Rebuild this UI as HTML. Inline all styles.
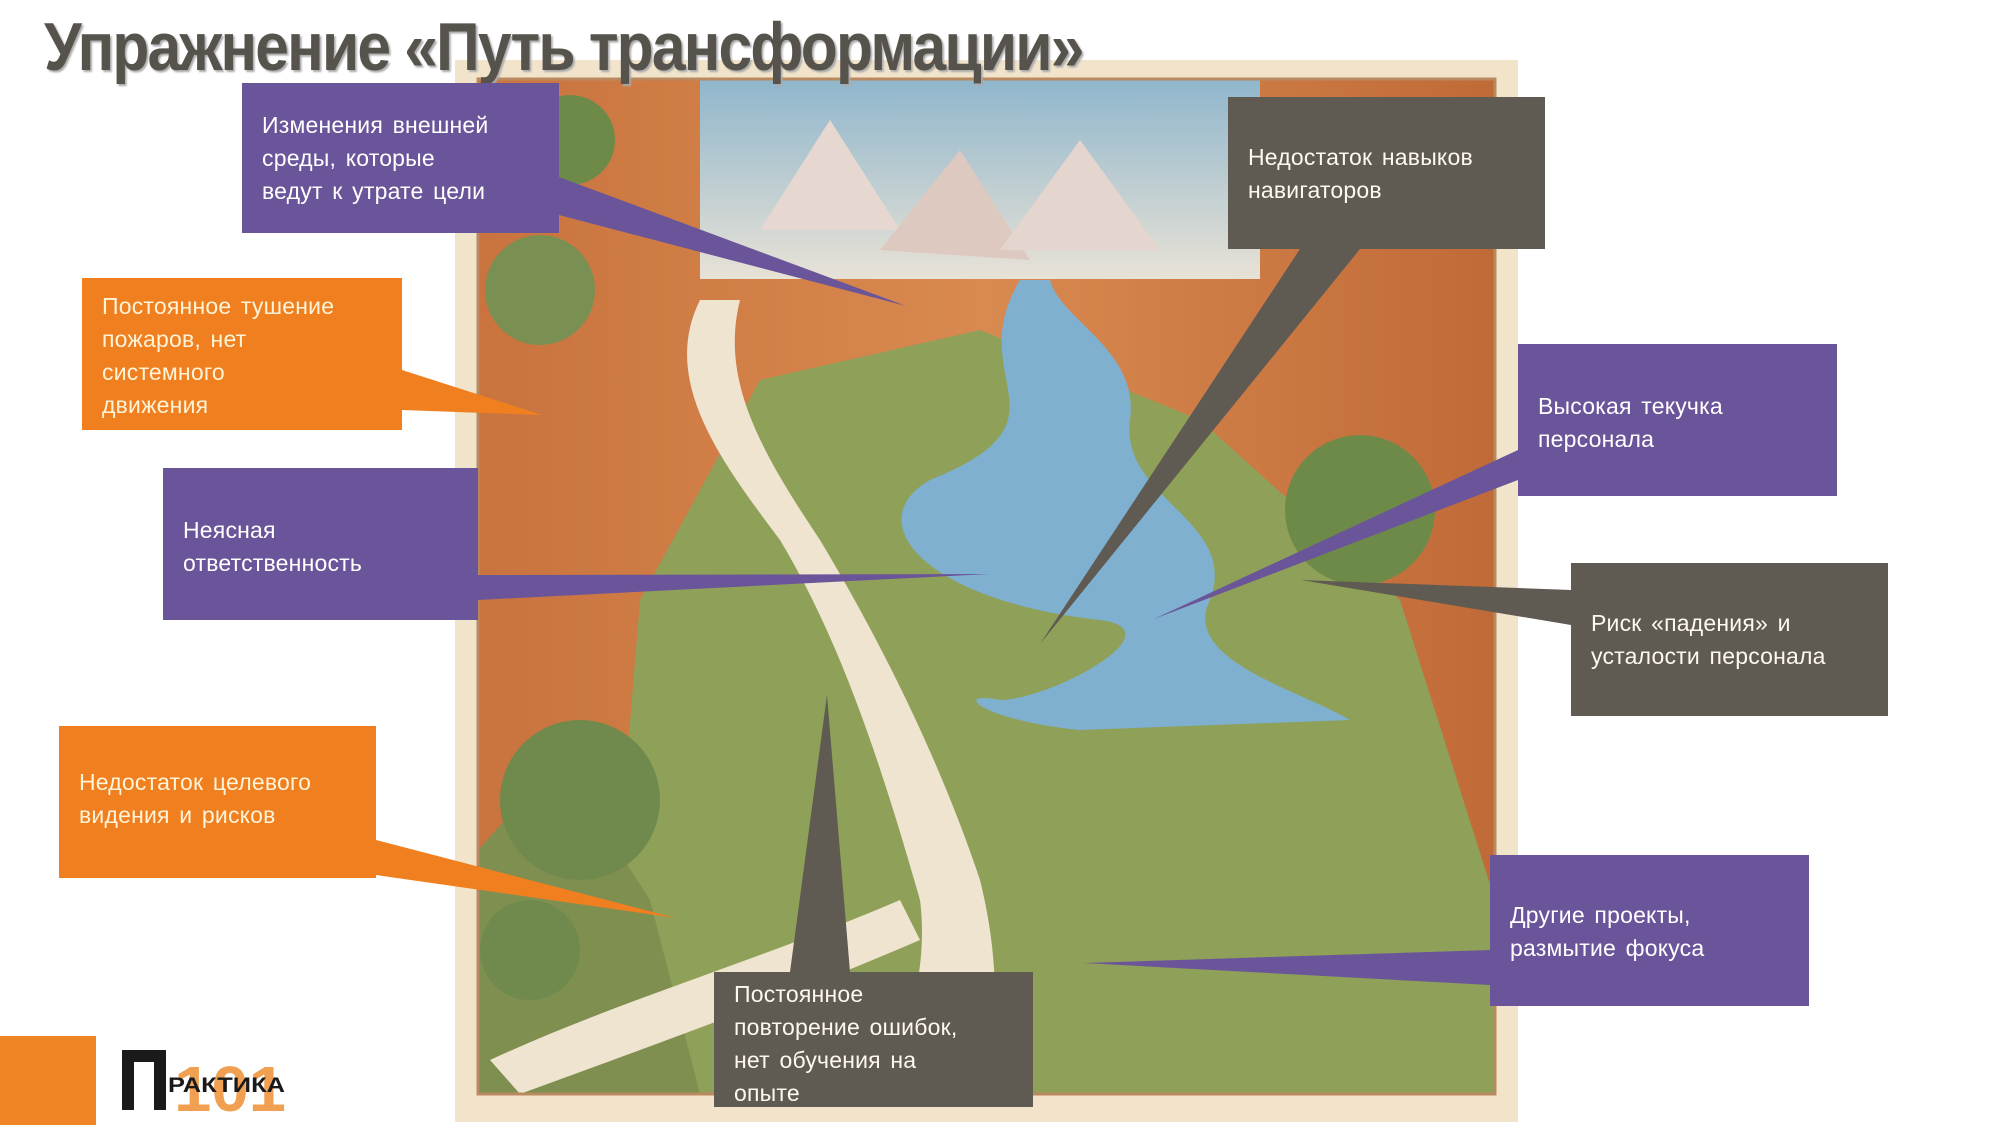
<!DOCTYPE html>
<html><head><meta charset="utf-8"><style>
body{margin:0;width:2000px;height:1125px;overflow:hidden;background:#fff;position:relative;font-family:"Liberation Sans",sans-serif}
.t{position:absolute;left:44px;top:8px;font-family:"Liberation Sans",sans-serif;font-weight:bold;font-size:68px;color:#56534c;letter-spacing:-2px;text-shadow:2px 2px 2px #aaa;white-space:nowrap;transform:scaleX(0.89);transform-origin:0 0;z-index:2}
.b{position:absolute;box-sizing:border-box;padding:26px 20px;font-size:23px;line-height:33px;color:#fff;letter-spacing:0.2px;word-spacing:3px;white-space:nowrap;z-index:3}
.p{background:#6b559a}.o{background:#ef7f1f;color:#fff3d8}.g{background:#5f5b53}
</style></head><body>
<div class="t">Упражнение «Путь трансформации»</div>
<svg width="2000" height="1125" style="position:absolute;left:0;top:0;z-index:1">
<defs>
<linearGradient id="sky" x1="0" y1="0" x2="0" y2="1"><stop offset="0" stop-color="#8fb6cc"/><stop offset="1" stop-color="#e8e2d6"/></linearGradient>
<linearGradient id="rock" x1="0" y1="0" x2="1" y2="0"><stop offset="0" stop-color="#c9733e"/><stop offset="0.5" stop-color="#d98a50"/><stop offset="1" stop-color="#c06a38"/></linearGradient>
</defs>
<rect x="455" y="60" width="1063" height="1062" fill="#f2e4cb"/>
<rect x="478" y="79" width="1017" height="1015" fill="url(#rock)"/>
<rect x="700" y="79" width="560" height="200" fill="url(#sky)"/>
<polygon points="760,230 830,120 900,230" fill="#e6d8d0"/>
<polygon points="880,250 960,150 1030,260" fill="#ddc9c0"/>
<polygon points="1000,250 1080,140 1160,250" fill="#e4d6ce"/>
<polygon points="600,1094 640,600 760,380 980,330 1200,420 1400,600 1495,900 1495,1094" fill="#8fa058"/>
<polygon points="478,1094 478,850 560,760 650,900 700,1094" fill="#7f8f50"/>
<path d="M1020,280 C960,380 1080,420 930,480 C860,520 920,600 1100,620 C1180,630 1050,700 1000,700 C950,690 980,720 1080,730 L1350,720 C1300,690 1180,660 1210,600 C1240,520 1120,500 1130,420 C1140,350 1060,320 1050,280Z" fill="#7fb0d0"/>
<path d="M700,300 C660,380 720,460 780,540 C840,640 880,760 920,900 C930,980 900,1050 880,1094 L980,1094 C1000,1040 1000,960 980,880 C940,760 880,640 820,540 C760,450 720,380 740,300Z" fill="#efe4d0"/>
<path d="M490,1060 C620,1000 760,960 900,900 L920,940 C780,1000 640,1050 520,1094Z" fill="#efe4d0"/>
<circle cx="570" cy="140" r="45" fill="#6e8a48"/><circle cx="540" cy="290" r="55" fill="#7a8f52"/>
<circle cx="580" cy="800" r="80" fill="#6f8a4c"/><circle cx="1360" cy="510" r="75" fill="#6d8a48"/>
<circle cx="530" cy="950" r="50" fill="#6f8a4c"/>
<rect x="478" y="79" width="1017" height="1015" fill="none" stroke="#b98a60" stroke-width="3"/>
<polygon points="540,170 559,215 906,306" fill="#6b559a"/>
<polygon points="402,370 402,410 542,415" fill="#ef7f1f"/>
<polygon points="478,575 478,600 989,574" fill="#6b559a"/>
<polygon points="376,840 376,875 676,918" fill="#ef7f1f"/>
<polygon points="790,972 850,972 827,695" fill="#5f5b53"/>
<polygon points="1300,249 1360,249 1040,644" fill="#5f5b53"/>
<polygon points="1518,450 1518,480 1154,619" fill="#6b559a"/>
<polygon points="1571,590 1571,625 1301,580" fill="#5f5b53"/>
<polygon points="1490,950 1490,985 1084,963" fill="#6b559a"/>
<rect x="0" y="1036" width="96" height="89" fill="#f08526"/>
<text x="174" y="1111" font-family="Liberation Sans,sans-serif" font-weight="bold" font-size="64" fill="#f0a050" textLength="112" lengthAdjust="spacingAndGlyphs">101</text>
<path d="M122,1110 V1050 H166 V1110 H154 V1062 H134 V1110Z" fill="#1a1a1a"/>
<text x="168" y="1092" font-family="Liberation Sans,sans-serif" font-weight="bold" font-size="21" fill="#1a1a1a" textLength="117" lengthAdjust="spacingAndGlyphs">РАКТИКА</text>
</svg>
<div class="b p" style="left:242px;top:83px;width:317px;height:150px">Изменения внешней<br>среды, которые<br>ведут к утрате цели</div>
<div class="b o" style="left:82px;top:278px;width:320px;height:152px;padding-top:12px">Постоянное тушение<br>пожаров, нет<br>системного<br>движения</div>
<div class="b p" style="left:163px;top:468px;width:315px;height:152px;padding-top:46px">Неясная<br>ответственность</div>
<div class="b o" style="left:59px;top:726px;width:317px;height:152px;padding-top:40px">Недостаток целевого<br>видения и рисков</div>
<div class="b g" style="left:714px;top:972px;width:319px;height:135px;padding-top:6px;color:#fff8ec">Постоянное<br>повторение ошибок,<br>нет обучения на<br>опыте</div>
<div class="b g" style="left:1228px;top:97px;width:317px;height:152px;padding-top:44px;color:#fff8ec">Недостаток навыков<br>навигаторов</div>
<div class="b p" style="left:1518px;top:344px;width:319px;height:152px;padding-top:46px">Высокая текучка<br>персонала</div>
<div class="b g" style="left:1571px;top:563px;width:317px;height:153px;padding-top:44px;color:#fff8ec">Риск «падения» и<br>усталости персонала</div>
<div class="b p" style="left:1490px;top:855px;width:319px;height:151px;padding-top:44px">Другие проекты,<br>размытие фокуса</div>
</body></html>
